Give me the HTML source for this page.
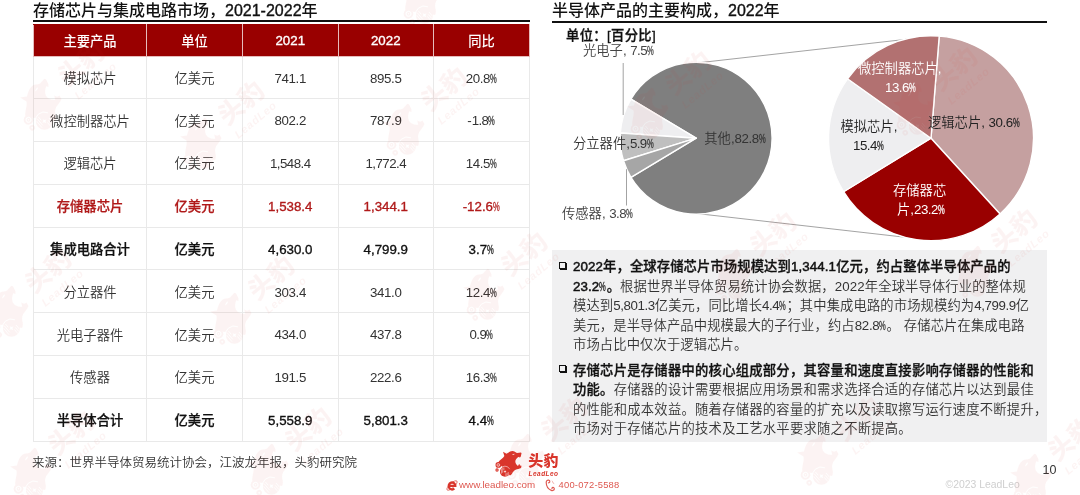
<!DOCTYPE html>
<html lang="zh-CN">
<head>
<meta charset="utf-8">
<title>存储芯片与集成电路市场</title>
<style>
html,body{margin:0;padding:0;background:#fff;}
body{width:1080px;height:495px;position:relative;overflow:hidden;font-family:"Liberation Sans","Noto Sans CJK SC",sans-serif;color:#222;font-weight:350;}
b{font-weight:400;-webkit-text-stroke:.35px;}
.bd{font-weight:500;-webkit-text-stroke:.3px;}
.abs{position:absolute;white-space:nowrap;}
.title{font-weight:500;font-size:16px;line-height:20px;color:#111;}
.rule{position:absolute;height:2px;background:#111;}
.c{display:inline-block;width:7.3px;transform:scaleX(.57);transform-origin:0 50%;-webkit-text-stroke:.3px;}
table.t{position:absolute;left:33px;top:24px;border-collapse:collapse;table-layout:fixed;width:496px;font-size:13.3px;}
table.t td,table.t th{border:1px solid #e9e9e9;text-align:center;vertical-align:middle;padding:0;height:41.8px;color:#333;font-weight:350;}
table.t th{background:#990000;color:#fff;font-weight:500;height:30.5px;border-color:#e6bcbc;border-top-color:#990000;}
table.t tr.b td{font-weight:500;color:#111;-webkit-text-stroke:.25px;}
table.t tr.r td{font-weight:500;color:#b01a1a;-webkit-text-stroke:.25px;}
.n{position:relative;top:.8px;}
.lab{font-size:13.3px;line-height:18px;}
.note{background:#f0f0f1;}
.para{position:absolute;left:573px;font-size:13.3px;line-height:19.5px;color:#333;white-space:nowrap;letter-spacing:.12px;}
.para .bd{color:#111;}
.para b{-webkit-text-stroke:.5px;}
.wm{position:absolute;width:0;height:0;transform:rotate(-40deg) scale(1.7);opacity:.05;color:#d9352b;pointer-events:none;}
.wm svg{position:absolute;left:-14.3px;top:-13.6px;width:28.7px;height:27.3px;}
.wm .a{position:absolute;left:20.1px;top:-12.7px;font-size:15px;font-weight:900;line-height:18px;white-space:nowrap;letter-spacing:.2px;}
.wm .b{position:absolute;left:20.4px;top:5.1px;font-size:6.5px;font-weight:bold;font-style:italic;letter-spacing:.45px;line-height:8px;white-space:nowrap;}
.bul{position:absolute;left:559px;width:4.8px;height:4.8px;border:1.2px solid #111;box-shadow:1px 1px 0 #111;}
</style>
</head>
<body>
<!-- left title -->
<div class="abs title" style="left:33px;top:1px;">存储芯片与集成电路市场，<b>2021-2022</b>年</div>
<div class="rule" style="left:33px;top:19.9px;width:497px;"></div>
<table class="t">
<colgroup><col style="width:113px"><col style="width:96px"><col style="width:95.5px"><col style="width:95.5px"><col style="width:96px"></colgroup>
<tr><th>主要产品</th><th>单位</th><th><b>2021</b></th><th><b>2022</b></th><th>同比</th></tr>
<tr><td>模拟芯片</td><td>亿美元</td><td><span class="n"><span style="letter-spacing:-0.37px">741.1</span></span></td><td><span class="n"><span style="letter-spacing:-0.37px">895.5</span></span></td><td><span class="n"><span style="letter-spacing:-0.46px">20.8</span><span class="c">%</span></span></td></tr>
<tr><td>微控制器芯片</td><td>亿美元</td><td><span class="n"><span style="letter-spacing:-0.37px">802.2</span></span></td><td><span class="n"><span style="letter-spacing:-0.37px">787.9</span></span></td><td><span class="n">-<span style="letter-spacing:-0.62px">1.8</span><span class="c">%</span></span></td></tr>
<tr><td>逻辑芯片</td><td>亿美元</td><td><span class="n"><span style="letter-spacing:-0.53px">1,548.4</span></span></td><td><span class="n"><span style="letter-spacing:-0.53px">1,772.4</span></span></td><td><span class="n"><span style="letter-spacing:-0.46px">14.5</span><span class="c">%</span></span></td></tr>
<tr class="r"><td>存储器芯片</td><td>亿美元</td><td><span class="n"><b>1,538.4</b></span></td><td><span class="n"><b>1,344.1</b></span></td><td><span class="n"><b>-12.6<span class="c">%</span></b></span></td></tr>
<tr class="b"><td>集成电路合计</td><td>亿美元</td><td><span class="n"><b>4,630.0</b></span></td><td><span class="n"><b>4,799.9</b></span></td><td><span class="n"><b>3.7<span class="c">%</span></b></span></td></tr>
<tr><td>分立器件</td><td>亿美元</td><td><span class="n"><span style="letter-spacing:-0.37px">303.4</span></span></td><td><span class="n"><span style="letter-spacing:-0.37px">341.0</span></span></td><td><span class="n"><span style="letter-spacing:-0.46px">12.4</span><span class="c">%</span></span></td></tr>
<tr><td>光电子器件</td><td>亿美元</td><td><span class="n"><span style="letter-spacing:-0.37px">434.0</span></span></td><td><span class="n"><span style="letter-spacing:-0.37px">437.8</span></span></td><td><span class="n"><span style="letter-spacing:-0.62px">0.9</span><span class="c">%</span></span></td></tr>
<tr><td>传感器</td><td>亿美元</td><td><span class="n"><span style="letter-spacing:-0.37px">191.5</span></span></td><td><span class="n"><span style="letter-spacing:-0.37px">222.6</span></span></td><td><span class="n"><span style="letter-spacing:-0.46px">16.3</span><span class="c">%</span></span></td></tr>
<tr class="b"><td>半导体合计</td><td>亿美元</td><td><span class="n"><b>5,558.9</b></span></td><td><span class="n"><b>5,801.3</b></span></td><td><span class="n"><b>4.4<span class="c">%</span></b></span></td></tr>
</table>
<div class="abs" style="left:32px;top:454px;font-size:12.5px;line-height:18px;color:#333;">来源：世界半导体贸易统计协会，江波龙年报，头豹研究院</div>

<!-- right title -->
<div class="abs title" style="left:552px;top:1px;">半导体产品的主要构成，<b>2022</b>年</div>
<div class="rule" style="left:552px;top:20.8px;width:495px;"></div>
<div class="abs" style="left:566px;top:27px;font-size:13.3px;line-height:18px;font-weight:500;color:#111;-webkit-text-stroke:.3px;letter-spacing:.35px;">单位：<b>[</b>百分比<b>]</b></div>

<svg class="abs" style="left:540px;top:24px;" width="540" height="222" viewBox="540 24 540 222">
  <path d="M696.6 63L931 36.5M696.6 213.5L931 240.2" stroke="#8c8c8c" stroke-width="0.8" fill="none"/>
  <path d="M696.10 138.20L630.93 99.10A76.0 76.0 0 1 1 630.93 177.30Z" fill="#7f7f7f" stroke="#fff" stroke-width="1.4" stroke-linejoin="round"/>
  <path d="M696.10 138.20L620.28 132.95A76.0 76.0 0 0 1 630.93 99.10Z" fill="#eeeef0" stroke="#fff" stroke-width="1.4" stroke-linejoin="round"/>
  <path d="M696.10 138.20L623.53 160.78A76.0 76.0 0 0 1 620.28 132.95Z" fill="#bfbfbf" stroke="#fff" stroke-width="1.4" stroke-linejoin="round"/>
  <path d="M696.10 138.20L630.93 177.30A76.0 76.0 0 0 1 623.53 160.78Z" fill="#a6a6a6" stroke="#fff" stroke-width="1.4" stroke-linejoin="round"/>
  <path d="M931.00 138.20L939.22 36.03A102.5 102.5 0 0 1 1000.06 213.94Z" fill="#c5a0a0" stroke="#fff" stroke-width="1.4" stroke-linejoin="round"/>
  <path d="M931.00 138.20L1000.06 213.94A102.5 102.5 0 0 1 843.59 191.74Z" fill="#990000" stroke="#fff" stroke-width="1.4" stroke-linejoin="round"/>
  <path d="M931.00 138.20L843.59 191.74A102.5 102.5 0 0 1 847.52 78.72Z" fill="#eeeef0" stroke="#fff" stroke-width="1.4" stroke-linejoin="round"/>
  <path d="M931.00 138.20L847.52 78.72A102.5 102.5 0 0 1 939.22 36.03Z" fill="#b27171" stroke="#fff" stroke-width="1.4" stroke-linejoin="round"/>
  <path d="M623.2 63V115M626.5 169.2V205.5" stroke="#8c8c8c" stroke-width="0.8" fill="none"/>
</svg>
<div class="abs lab" style="left:583px;top:41.7px;color:#444;">光电子, <span style="letter-spacing:-0.62px">7.5</span><span class="c">%</span></div>
<div class="abs lab" style="left:573px;top:134.8px;color:#333;">分立器件,<span style="letter-spacing:-0.62px">5.9</span><span class="c">%</span></div>
<div class="abs lab" style="left:562px;top:205.3px;color:#444;">传感器, <span style="letter-spacing:-0.62px">3.8</span><span class="c">%</span></div>
<div class="abs lab" style="left:704.3px;top:129.8px;color:#333;">其他,<span style="letter-spacing:-0.46px">82.8</span><span class="c">%</span></div>
<div class="abs lab" style="left:858px;top:60px;color:#fff;">微控制器芯片,</div>
<div class="abs lab" style="left:885px;top:79px;color:#fff;"><span style="letter-spacing:-0.46px">13.6</span><span class="c">%</span></div>
<div class="abs lab" style="left:840.5px;top:117.8px;color:#222;">模拟芯片,</div>
<div class="abs lab" style="left:853px;top:137px;color:#222;"><span style="letter-spacing:-0.46px">15.4</span><span class="c">%</span></div>
<div class="abs lab" style="left:928px;top:113.6px;color:#222;">逻辑芯片, <span style="letter-spacing:-0.46px">30.6</span><span class="c">%</span></div>
<div class="abs lab" style="left:893px;top:182px;color:#fff;">存储器芯</div>
<div class="abs lab" style="left:897px;top:201px;color:#fff;">片,<span style="letter-spacing:-0.46px">23.2</span><span class="c">%</span></div>

<!-- note box -->
<div class="abs note" style="left:552px;top:250px;width:495px;height:191.6px;"></div>
<div class="bul" style="top:262.3px;"></div>
<div class="para" style="top:257px;"><span class="bd"><b>2022</b>年，全球存储芯片市场规模达到<b>1,344.1</b>亿元，约占整体半导体产品的<br><b>23.2<span class="c">%</span></b>。</span>根据世界半导体贸易统计协会数据，2022年全球半导体行业的整体规<br>模达到<span style="letter-spacing:-0.41px">5,801.3</span>亿美元，同比增长<span style="letter-spacing:-0.50px">4.4</span><span class="c">%</span>；其中集成电路的市场规模约为<span style="letter-spacing:-0.41px">4,799.9</span>亿<br>美元，是半导体产品中规模最大的子行业，约占<span style="letter-spacing:-0.34px">82.8</span><span class="c">%</span>。 存储芯片在集成电路<br>市场占比中仅次于逻辑芯片。</div>
<div class="bul" style="top:365.3px;"></div>
<div class="para" style="top:360.6px;letter-spacing:.26px;"><span class="bd">存储芯片是存储器中的核心组成部分，其容量和速度直接影响存储器的性能和<br>功能。</span>存储器的设计需要根据应用场景和需求选择合适的存储芯片以达到最佳<br>的性能和成本效益。随着存储器的容量的扩充以及读取擦写运行速度不断提升，<br>市场对于存储芯片的技术及工艺水平要求随之不断提高。</div>

<!-- footer -->
<svg width="0" height="0" style="position:absolute"><defs>
<symbol id="leo" viewBox="60 50 430 410">
<path d="M195 75L247 108C275 86 305 68 335 66C365 66 385 88 405 95L465 88L473 100L462 148L447 166L436 150C414 160 390 180 382 206C375 236 386 266 420 290L438 256L450 281L473 286L466 322C440 336 410 341 385 346C365 356 350 368 340 388C330 412 316 426 298 434L180 300L122 236C140 200 196 176 215 140Z"/>
<circle cx="225" cy="375" r="76"/>
<circle cx="125" cy="275" r="43"/>
<circle cx="105" cy="350" r="25"/>
<g fill="none" stroke="#fff">
<circle cx="125" cy="275" r="21" stroke-width="9"/>
<path d="M152 338A80 80 0 0 1 296 338" stroke-width="8"/>
<path d="M172 330V405M190 318V392M208 312V350M238 400V446M256 392V440M274 380V428" stroke-width="7"/>
</g>
<g fill="#fff">
<circle cx="125" cy="275" r="6"/>
<circle cx="105" cy="350" r="8"/>
<path d="M225 352L232 368L248 374L232 381L225 398L218 381L202 374L218 368Z"/>
<ellipse cx="352" cy="115" rx="19" ry="6" transform="rotate(-14 352 115)"/>
</g>
</symbol></defs></svg>
<svg class="abs" style="left:494px;top:450.3px;" width="28.7" height="27.3" fill="#d9352b"><use href="#leo"/></svg>
<div class="abs" style="left:528.3px;top:451.8px;font-size:15px;line-height:18px;font-weight:900;color:#d9352b;letter-spacing:.2px;">头豹</div>
<div class="abs" style="left:528.6px;top:469.6px;font-size:6.5px;line-height:8px;font-weight:bold;font-style:italic;color:#d9352b;letter-spacing:0.45px;">LeadLeo</div>
<svg class="abs" style="left:444px;top:477px;" width="16" height="17" viewBox="-8 -8.5 16 17" fill="none">
<ellipse cx="0" cy="0" rx="6.6" ry="2.3" transform="rotate(-42)" stroke="#e4675f" stroke-width=".9"/>
<path d="M-3.1 .4H3.3A3.3 3.5 0 1 0 2.3 3" stroke="#d9352b" stroke-width="2.3"/>
</svg>
<div class="abs" style="left:459px;top:478.3px;font-size:9.8px;line-height:13px;color:#de5850;">www.leadleo.com</div>
<svg class="abs" style="left:545px;top:479px;" width="11" height="13" viewBox="0 0 11 13" fill="none" stroke="#de5850" stroke-width="1.15" stroke-linecap="round" stroke-linejoin="round">
<path d="M3.6 1.1C2.2 .9 1.2 1.9 1.2 3.6C1.3 7.2 3.4 10.4 6.3 11.4C7.9 11.9 9.2 11.2 9.3 9.9C9.4 9 8.7 8.3 7.9 8.4C7.2 8.5 6.8 9.2 7 9.8M3.6 1.1C4.4 1.2 4.9 1.9 4.8 2.7C4.7 3.5 4 3.9 3.4 3.8"/>
<path d="M6.6 1L9.6 5.2C8.4 5 7.2 3.4 6.6 1Z" fill="#eb8f88" stroke="none"/>
</svg>
<div class="abs" style="left:558.6px;top:478.3px;font-size:9.4px;line-height:13px;color:#de5850;letter-spacing:.2px;">400-072-5588</div>
<div class="abs" style="left:945.6px;top:478.3px;font-size:10.4px;line-height:13px;color:#cfcfcf;">©2023 LeadLeo</div>
<div class="abs" style="left:1042.6px;top:462.3px;font-size:12.5px;line-height:16px;color:#333;">10</div>
<!-- watermark -->
<div class="wm" style="left:40px;top:108px;"><svg viewBox="0 0 28.7 27.3" fill="#d9352b"><use href="#leo" width="28.7" height="27.3"/></svg><span class="a">头豹</span><span class="b">LeadLeo</span></div>
<div class="wm" style="left:200px;top:147px;"><svg viewBox="0 0 28.7 27.3" fill="#d9352b"><use href="#leo" width="28.7" height="27.3"/></svg><span class="a">头豹</span><span class="b">LeadLeo</span></div>
<div class="wm" style="left:403px;top:133px;"><svg viewBox="0 0 28.7 27.3" fill="#d9352b"><use href="#leo" width="28.7" height="27.3"/></svg><span class="a">头豹</span><span class="b">LeadLeo</span></div>
<div class="wm" style="left:647px;top:117px;"><svg viewBox="0 0 28.7 27.3" fill="#d9352b"><use href="#leo" width="28.7" height="27.3"/></svg><span class="a">头豹</span><span class="b">LeadLeo</span></div>
<div class="wm" style="left:913px;top:113px;"><svg viewBox="0 0 28.7 27.3" fill="#d9352b"><use href="#leo" width="28.7" height="27.3"/></svg><span class="a">头豹</span><span class="b">LeadLeo</span></div>
<div class="wm" style="left:420px;top:2px;"><svg viewBox="0 0 28.7 27.3" fill="#d9352b"><use href="#leo" width="28.7" height="27.3"/></svg><span class="a">头豹</span><span class="b">LeadLeo</span></div>
<div class="wm" style="left:7px;top:315px;"><svg viewBox="0 0 28.7 27.3" fill="#d9352b"><use href="#leo" width="28.7" height="27.3"/></svg><span class="a">头豹</span><span class="b">LeadLeo</span></div>
<div class="wm" style="left:230px;top:322px;"><svg viewBox="0 0 28.7 27.3" fill="#d9352b"><use href="#leo" width="28.7" height="27.3"/></svg><span class="a">头豹</span><span class="b">LeadLeo</span></div>
<div class="wm" style="left:483px;top:298px;"><svg viewBox="0 0 28.7 27.3" fill="#d9352b"><use href="#leo" width="28.7" height="27.3"/></svg><span class="a">头豹</span><span class="b">LeadLeo</span></div>
<div class="wm" style="left:732px;top:278px;"><svg viewBox="0 0 28.7 27.3" fill="#d9352b"><use href="#leo" width="28.7" height="27.3"/></svg><span class="a">头豹</span><span class="b">LeadLeo</span></div>
<div class="wm" style="left:973px;top:275px;"><svg viewBox="0 0 28.7 27.3" fill="#d9352b"><use href="#leo" width="28.7" height="27.3"/></svg><span class="a">头豹</span><span class="b">LeadLeo</span></div>
<div class="wm" style="left:30px;top:477px;"><svg viewBox="0 0 28.7 27.3" fill="#d9352b"><use href="#leo" width="28.7" height="27.3"/></svg><span class="a">头豹</span><span class="b">LeadLeo</span></div>
<div class="wm" style="left:267px;top:473px;"><svg viewBox="0 0 28.7 27.3" fill="#d9352b"><use href="#leo" width="28.7" height="27.3"/></svg><span class="a">头豹</span><span class="b">LeadLeo</span></div>
<div class="wm" style="left:523px;top:463px;"><svg viewBox="0 0 28.7 27.3" fill="#d9352b"><use href="#leo" width="28.7" height="27.3"/></svg><span class="a">头豹</span><span class="b">LeadLeo</span></div>
<div class="wm" style="left:817px;top:463px;"><svg viewBox="0 0 28.7 27.3" fill="#d9352b"><use href="#leo" width="28.7" height="27.3"/></svg><span class="a">头豹</span><span class="b">LeadLeo</span></div>
<div class="wm" style="left:1030px;top:483px;"><svg viewBox="0 0 28.7 27.3" fill="#d9352b"><use href="#leo" width="28.7" height="27.3"/></svg><span class="a">头豹</span><span class="b">LeadLeo</span></div>
</body>
</html>
